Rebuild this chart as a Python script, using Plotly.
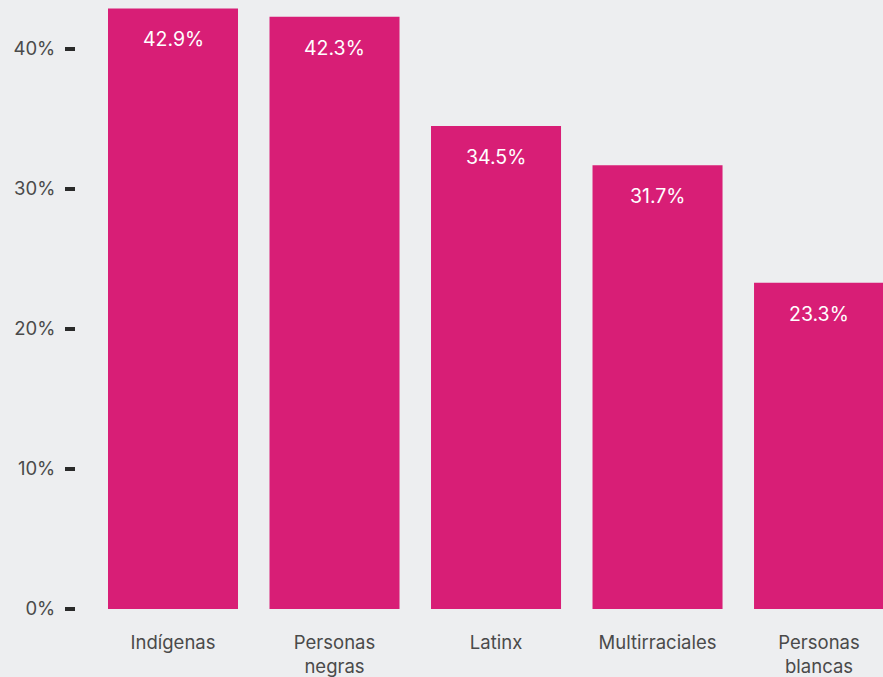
import plotly.graph_objects as go

categories = ["Indígenas", "Personas<br>negras", "Latinx", "Multirraciales", "Personas<br>blancas"]
values = [42.9, 42.3, 34.5, 31.7, 23.3]
tick_vals = [0, 10, 20, 30, 40]
tick_text = ["0%", "10%", "20%", "30%", "40%"]

bg = "#EDEEF0"
bar_color = "#D81E76"
font_family = "Inter, Lato, sans-serif"

fig = go.Figure(
    go.Bar(
        x=list(range(len(categories))),
        y=values,
        marker=dict(color=bar_color, line=dict(width=0)),
        hoverinfo="skip",
    )
)

# value labels near the top of each bar
for i, v in enumerate(values):
    fig.add_annotation(
        x=i, y=v, text=f"{v:.1f}%", showarrow=False,
        yshift=-31, font=dict(family=font_family, size=19.5, color="white"),
    )

fig.update_layout(
    width=883, height=677,
    margin=dict(l=76, r=0, t=0, b=68),
    paper_bgcolor=bg, plot_bgcolor=bg,
    bargap=0.195,
    showlegend=False,
    font=dict(family=font_family, size=18.5, color="#4a4a4a"),
)
fig.update_xaxes(
    range=[-0.6006, 4.396],
    tickvals=list(range(len(categories))),
    ticktext=categories,
    ticks="", showgrid=False, zeroline=False, showline=False,
    ticklabelstandoff=20, automargin=False,
    tickfont=dict(size=18.5, color="#4a4a4a"),
)
fig.update_yaxes(
    range=[0, 43.5],
    tickvals=tick_vals, ticktext=tick_text,
    ticks="outside", ticklen=10, tickwidth=4, tickcolor="#2a2a2a",
    showgrid=False, zeroline=False, showline=False,
    ticklabelstandoff=6, automargin=False,
    tickfont=dict(size=18.5, color="#4a4a4a"),
)

fig.write_html("out.html")
